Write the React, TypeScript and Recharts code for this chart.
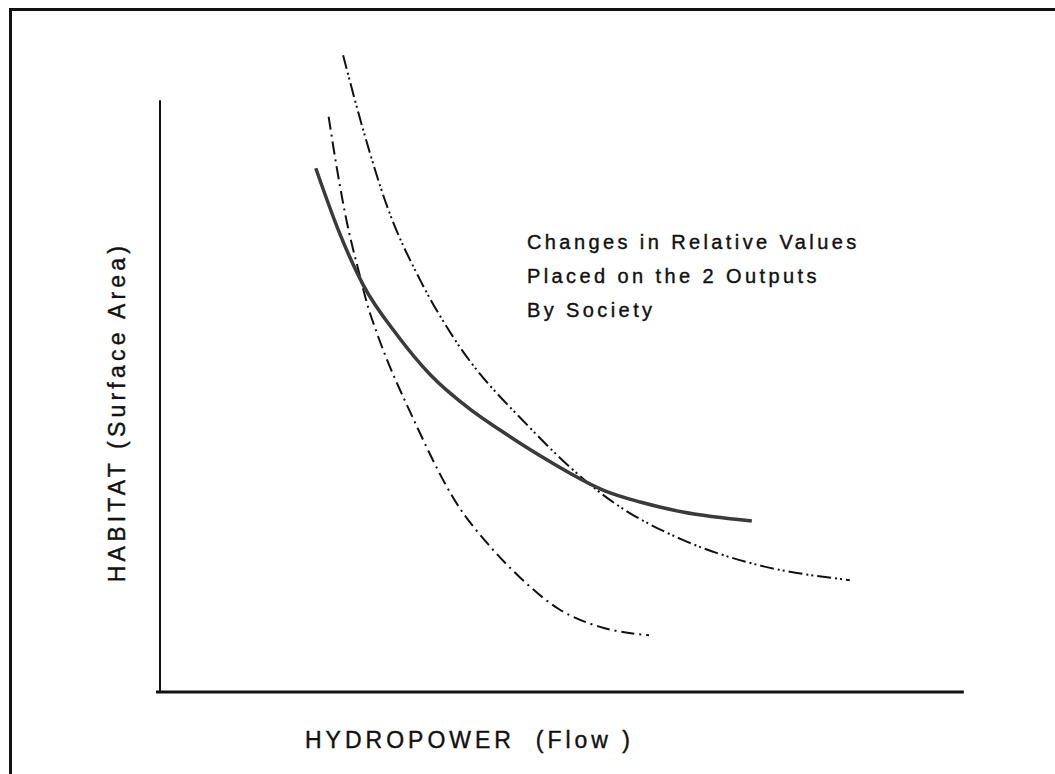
import { LineChart, Line, XAxis, YAxis, ReferenceLine } from "recharts";

// curves (x = flow, y = habitat, arbitrary units)
const solidCurve = [
  { x: 19.4, y: 88.5 },
  { x: 22.4, y: 77.4 },
  { x: 25.3, y: 68.8 },
  { x: 29.6, y: 60.2 },
  { x: 33.6, y: 53.7 },
  { x: 38.6, y: 47.8 },
  { x: 42.3, y: 44.3 },
  { x: 48.6, y: 38.9 },
  { x: 55.4, y: 34.0 },
  { x: 59.8, y: 32.1 },
  { x: 65.1, y: 30.4 },
  { x: 73.7, y: 28.9 },
];

const steepCurve = [
  { x: 21.0, y: 97.2 },
  { x: 22.0, y: 88.7 },
  { x: 23.3, y: 79.2 },
  { x: 24.8, y: 70.8 },
  { x: 25.9, y: 65.1 },
  { x: 27.0, y: 60.7 },
  { x: 31.6, y: 46.0 },
  { x: 36.7, y: 32.4 },
  { x: 41.5, y: 24.0 },
  { x: 44.8, y: 19.4 },
  { x: 49.8, y: 13.9 },
  { x: 54.8, y: 11.0 },
  { x: 60.9, y: 9.6 },
];

const flatCurve = [
  { x: 22.8, y: 107.6 },
  { x: 25.3, y: 95.0 },
  { x: 28.3, y: 82.0 },
  { x: 32.4, y: 69.6 },
  { x: 36.5, y: 60.0 },
  { x: 46.1, y: 44.6 },
  { x: 56.4, y: 32.1 },
  { x: 65.1, y: 25.7 },
  { x: 73.5, y: 21.8 },
  { x: 85.9, y: 18.9 },
];

const noteLines = [
  "Changes in Relative Values",
  "Placed on the 2 Outputs",
  "By Society",
];

const xTitle = "HYDROPOWER  (Flow )";
const yTitle = "HABITAT (Surface Area)";

const font = "'Liberation Sans', Arial, sans-serif";
const ink = "#111";

export default function App() {
  return (
    <div
      style={{
        position: "absolute",
        left: 0,
        top: 0,
        width: 1055,
        height: 774,
        background: "#fff",
        overflow: "hidden",
        fontFamily: font,
        color: ink,
        WebkitTextStroke: "0.4px #111",
      }}
    >
      {/* scanned frame, only top and left edges are inside the picture */}
      <div
        style={{
          position: "absolute",
          left: 9,
          top: 8,
          width: 1100,
          height: 800,
          borderTop: "3px solid #111",
          borderLeft: "3px solid #111",
        }}
      />
      <LineChart
        width={1055}
        height={774}
        margin={{ top: 41, right: 92, bottom: 82, left: 160 }}
        style={{ position: "absolute", left: 0, top: 0 }}
      >
        <XAxis type="number" dataKey="x" domain={[0, 100]} hide />
        <YAxis type="number" dataKey="y" domain={[0, 110]} hide />
        <ReferenceLine
          segment={[
            { x: 0, y: 0 },
            { x: 0, y: 100 },
          ]}
          stroke={ink}
          strokeWidth={2}
          ifOverflow="visible"
        />
        <ReferenceLine
          segment={[
            { x: -0.5, y: 0 },
            { x: 100.1, y: 0 },
          ]}
          stroke={ink}
          strokeWidth={3}
          ifOverflow="visible"
        />
        <Line
          data={flatCurve}
          dataKey="y"
          type="monotone"
          stroke={ink}
          strokeWidth={2}
          strokeDasharray="14 4 2 3 2 4"
          dot={false}
          isAnimationActive={false}
        />
        <Line
          data={steepCurve}
          dataKey="y"
          type="monotone"
          stroke={ink}
          strokeWidth={2}
          strokeDasharray="13 5 2 5"
          dot={false}
          isAnimationActive={false}
        />
        <Line
          data={solidCurve}
          dataKey="y"
          type="monotone"
          stroke="#3a3a3a"
          strokeWidth={3.5}
          dot={false}
          isAnimationActive={false}
        />
      </LineChart>

      <div style={{ position: "absolute", left: 527, top: 225, fontSize: 20, letterSpacing: 3.4, lineHeight: "34px", whiteSpace: "pre" }}>
        {noteLines.map((t) => (
          <div key={t}>{t}</div>
        ))}
      </div>

      <div style={{ position: "absolute", left: 305, top: 729, fontSize: 23, lineHeight: "23px", letterSpacing: 4, whiteSpace: "pre" }}>
        {xTitle}
      </div>

      <div
        style={{
          position: "absolute",
          left: 117,
          top: 412,
          fontSize: 23,
          lineHeight: "23px",
          letterSpacing: 4.2,
          whiteSpace: "pre",
          transform: "translate(-50%, -50%) rotate(-90deg)",
        }}
      >
        {yTitle}
      </div>
    </div>
  );
}
